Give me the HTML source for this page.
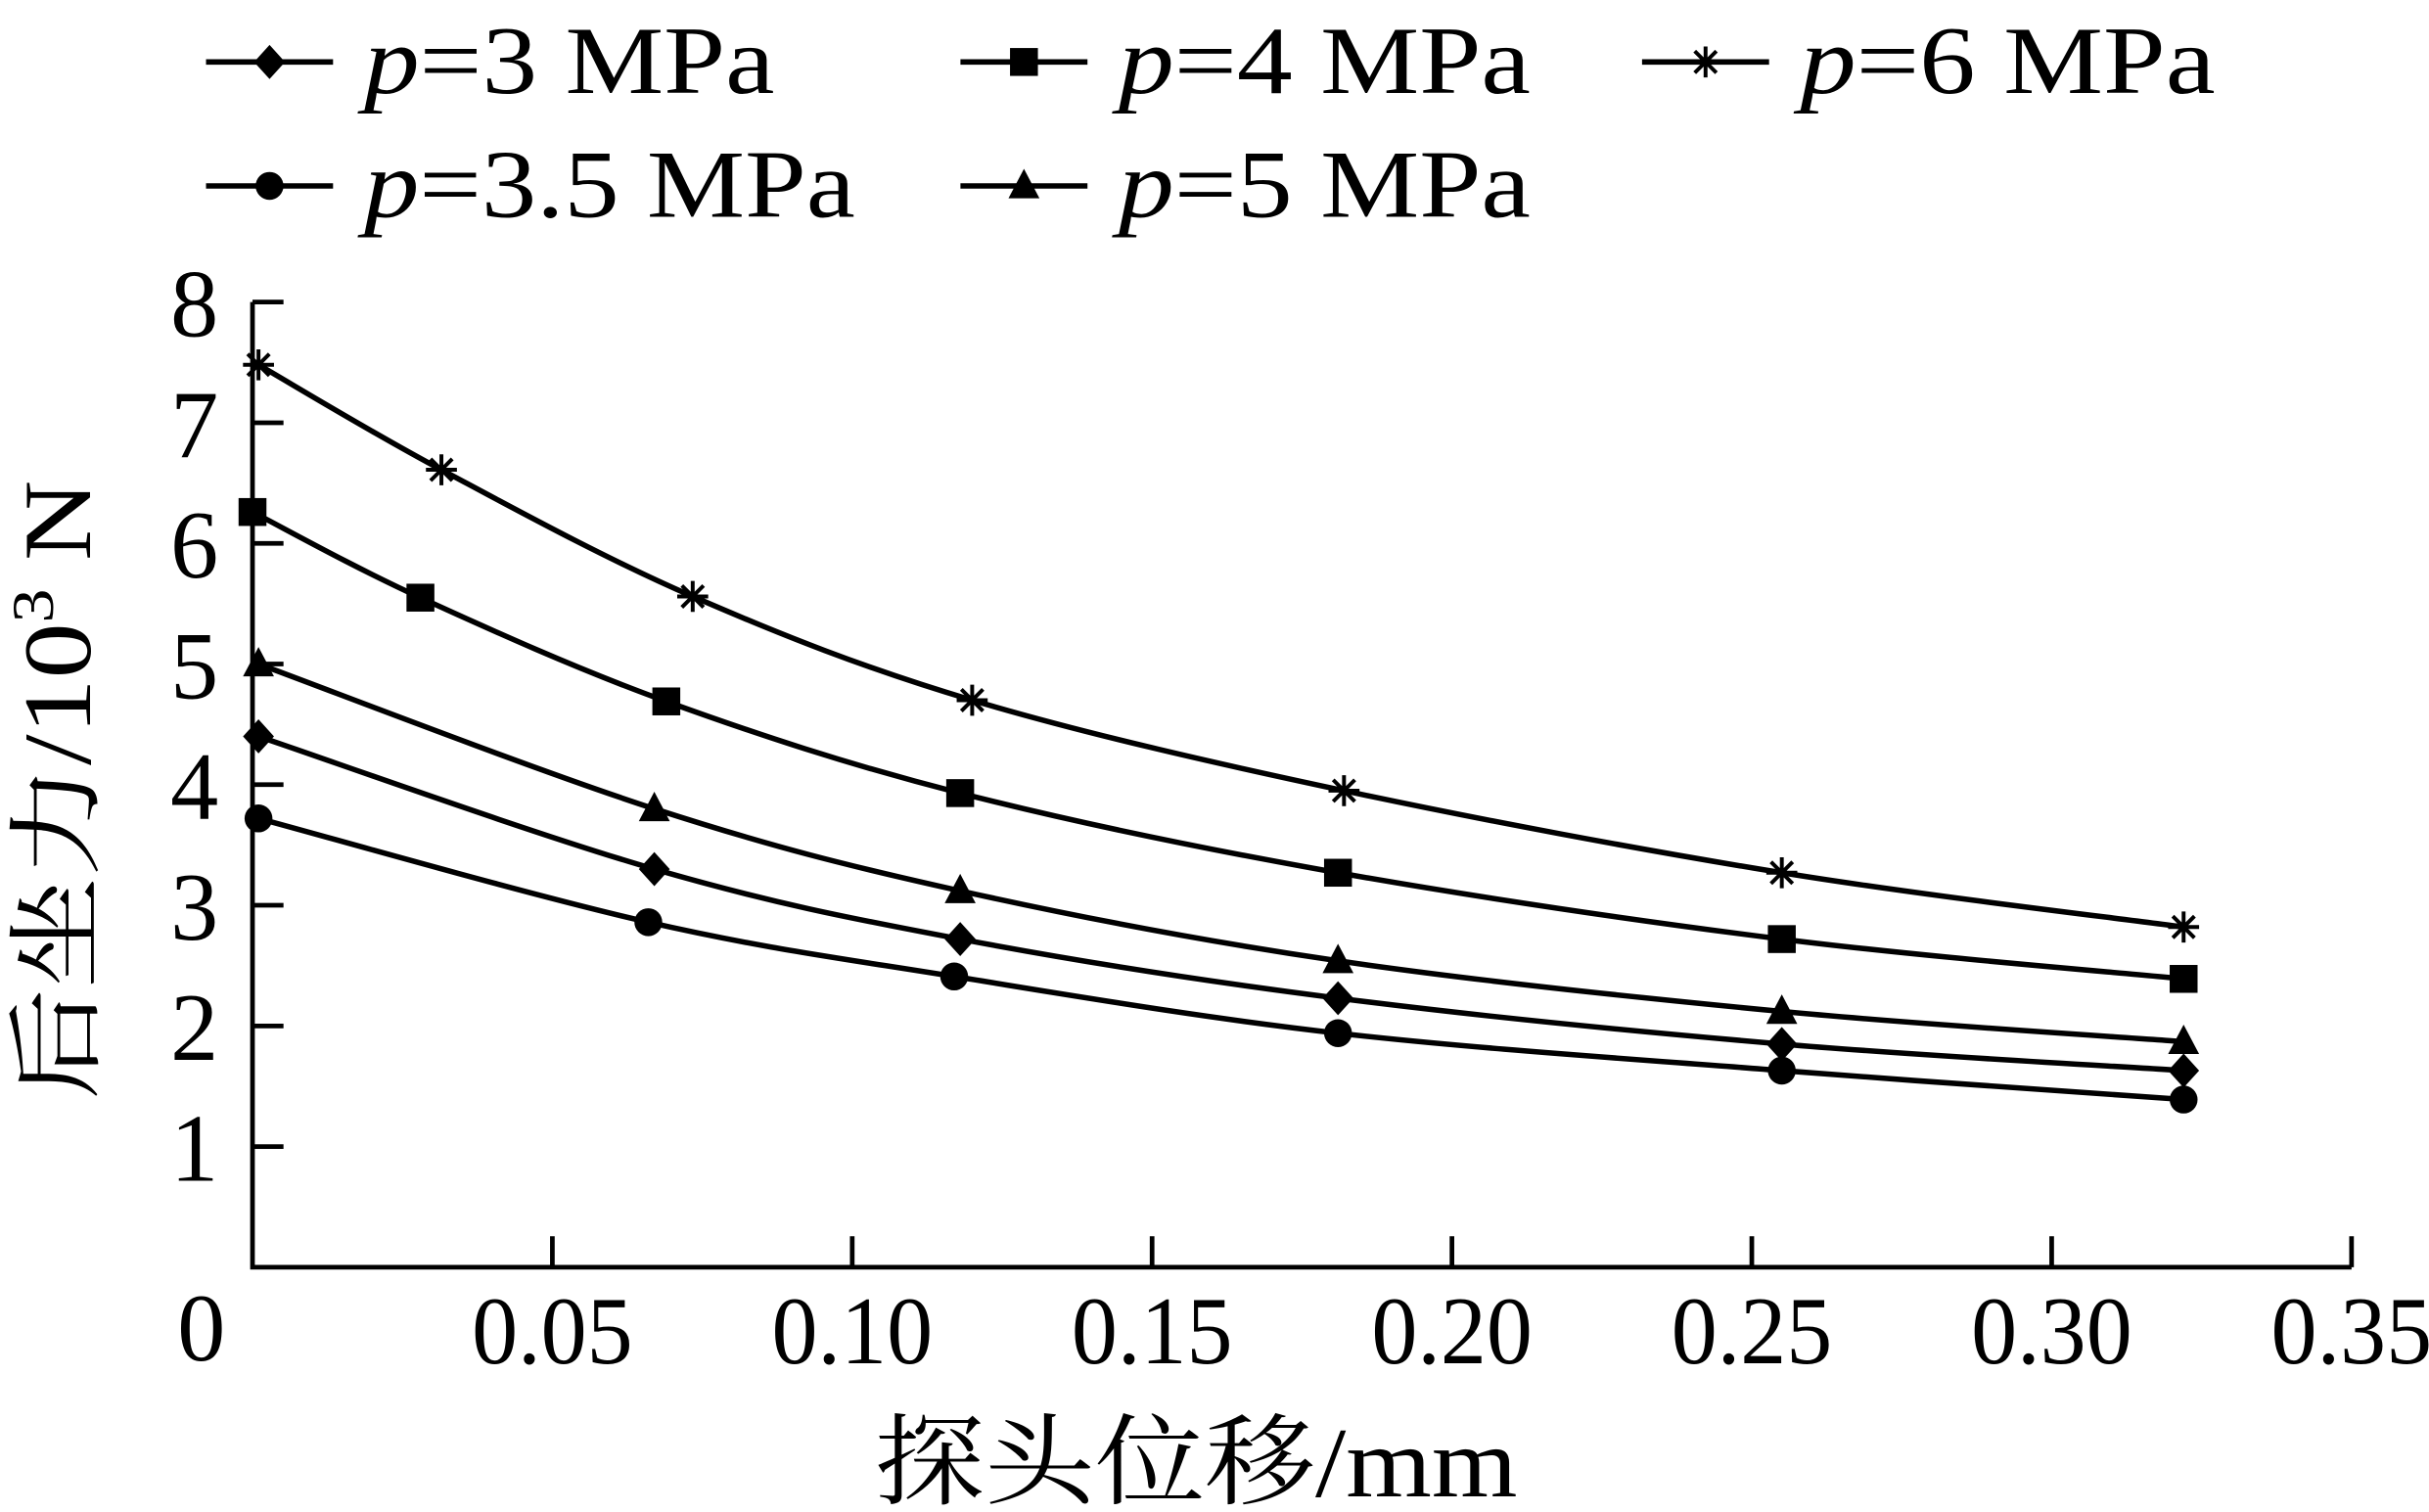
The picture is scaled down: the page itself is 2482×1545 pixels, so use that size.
<!DOCTYPE html>
<html><head><meta charset="utf-8"><style>
html,body{margin:0;padding:0;background:#fff;}
svg{display:block;}
text{font-family:"Liberation Serif","Noto Serif CJK SC",serif;fill:#000;}
</style></head><body>
<svg id="chart" width="2482" height="1545" viewBox="0 0 1568 976" preserveAspectRatio="none" xmlns="http://www.w3.org/2000/svg">
<g id="axes"></g>
<g id="series"></g>
<g id="legend"></g>
<text transform="translate(58,510) rotate(-90)" text-anchor="middle" font-size="62" textLength="400" lengthAdjust="spacingAndGlyphs">后坐力/10<tspan font-size="38" dy="-24">3</tspan><tspan dy="24"> N</tspan></text>
<text x="772" y="966" text-anchor="middle" font-size="64" textLength="415" lengthAdjust="spacingAndGlyphs">探头位移/mm</text>
</svg>
<script>
const xTicks=[0.05,0.10,0.15,0.20,0.25,0.30,0.35];
const xTickLabels=["0.05","0.10","0.15","0.20","0.25","0.30","0.35"];
const yTicks=[1,2,3,4,5,6,7,8];
const seriesNames=["p=3 MPa","p=3.5 MPa","p=4 MPa","p=5 MPa","p=6 MPa"];
const seriesMarkers=["diamond","circle","square","triangle","star"];
const x3=[0.001,0.067,0.118,0.181,0.255,0.322];
const y3=[4.40,3.30,2.72,2.23,1.85,1.63];
const x35=[0.001,0.066,0.117,0.181,0.255,0.322];
const y35=[3.72,2.86,2.41,1.94,1.63,1.39];
const x4=[0.0,0.028,0.069,0.118,0.181,0.255,0.322];
const y4=[6.26,5.55,4.69,3.93,3.27,2.72,2.39];
const x5=[0.001,0.067,0.118,0.181,0.255,0.322];
const y5=[5.0,3.80,3.12,2.54,2.12,1.87];
const x6=[0.001,0.0315,0.0734,0.120,0.182,0.255,0.322];
const y6=[7.48,6.61,5.56,4.70,3.95,3.27,2.82];
const seriesX=[x3,x35,x4,x5,x6];
const seriesY=[y3,y35,y4,y5,y6];
const NS="http://www.w3.org/2000/svg";
const X0=163,X1=1518,Y0=818,YT=195;
const sx=v=>X0+(v/0.35)*(X1-X0);
const sy=v=>Y0-(v/8)*(Y0-YT);
function mk(tag,attrs,parent){const e=document.createElementNS(NS,tag);for(const k in attrs)e.setAttribute(k,attrs[k]);parent.appendChild(e);return e;}
const axes=document.getElementById('axes');
let e=mk('path',{d:`M${X0},${YT}V${Y0}H${X1}`,fill:'none',stroke:'#000','stroke-width':3},axes);


xTicks.forEach((t,i)=>{
 let l=mk('line',{x1:sx(t),x2:sx(t),y1:Y0,y2:Y0-20,stroke:'#000','stroke-width':3},axes);
 
 
 let tx=mk('text',{x:sx(t),y:880,'text-anchor':'middle','font-size':62,textLength:104,lengthAdjust:'spacingAndGlyphs'},axes);
 tx.textContent=xTickLabels[i];
 
 
});
let z=mk('text',{x:130,y:878,'text-anchor':'middle','font-size':62},axes);z.textContent="0";


yTicks.forEach(t=>{
 let l=mk('line',{x1:X0,x2:X0+20,y1:sy(t),y2:sy(t),stroke:'#000','stroke-width':3},axes);
 
 
 let tx=mk('text',{x:141,y:sy(t)+22,'text-anchor':'end','font-size':62},axes);
 tx.textContent=String(t);
 
 
});
function marker(type,cx,cy,parent){
 let m;
 if(type==='diamond')m=mk('path',{d:`M${cx},${cy-11}L${cx+10},${cy}L${cx},${cy+11}L${cx-10},${cy}Z`,fill:'#000'},parent);
 else if(type==='circle')m=mk('circle',{cx,cy,r:9,fill:'#000'},parent);
 else if(type==='square')m=mk('rect',{x:cx-9,y:cy-9,width:18,height:18,fill:'#000'},parent);
 else if(type==='triangle')m=mk('path',{d:`M${cx},${cy-11}L${cx+10},${cy+8}L${cx-10},${cy+8}Z`,fill:'#000'},parent);
 else {m=mk('path',{d:`M${cx-10},${cy}H${cx+10}M${cx},${cy-10}V${cy+10}M${cx-7},${cy-7}L${cx+7},${cy+7}M${cx+7},${cy-7}L${cx-7},${cy+7}`,stroke:'#000','stroke-width':2.5,fill:'none'},parent);}
 return m;
}
function smooth(pts){
 let d=`M${pts[0][0]},${pts[0][1]}`;
 for(let i=0;i<pts.length-1;i++){
  const p0=pts[i-1]||pts[i],p1=pts[i],p2=pts[i+1],p3=pts[i+2]||p2;
  const c1=[p1[0]+(p2[0]-p0[0])/6,p1[1]+(p2[1]-p0[1])/6];
  const c2=[p2[0]-(p3[0]-p1[0])/6,p2[1]-(p3[1]-p1[1])/6];
  d+=`C${c1[0]},${c1[1]} ${c2[0]},${c2[1]} ${p2[0]},${p2[1]}`;
 }
 return d;
}
const sg=document.getElementById('series');
seriesX.forEach((xs,si)=>{
 const g=mk('g',{},sg);
 
 
 const pts=xs.map((v,i)=>[sx(v),sy(seriesY[si][i])]);
 const p=mk('path',{d:smooth(pts),fill:'none',stroke:'#000','stroke-width':3.5},g);
 
 
 pts.forEach(q=>{const m=marker(seriesMarkers[si],q[0],q[1],g);
  
  });
});
const lg=document.getElementById('legend');
const legPos=[[133,40,235,265],[133,120,235,317],[620,40,722,266],[620,120,722,266],[1060,40,1162,268]];
seriesNames.forEach((n,i)=>{
 const [lx,ly,tx0,tw]=legPos[i];
 const g=mk('g',{},lg);
 
 
 mk('line',{x1:lx,x2:lx+82,y1:ly,y2:ly,stroke:'#000','stroke-width':3.5},g);
 marker(seriesMarkers[i],lx+41,ly,g);
 const t=mk('text',{x:tx0,y:ly+20,'font-size':62,textLength:tw,lengthAdjust:'spacingAndGlyphs'},g);
 const num=n.slice(2);
 t.innerHTML=`<tspan font-style="italic">p</tspan>=${num}`;
});
</script>
</body></html>
